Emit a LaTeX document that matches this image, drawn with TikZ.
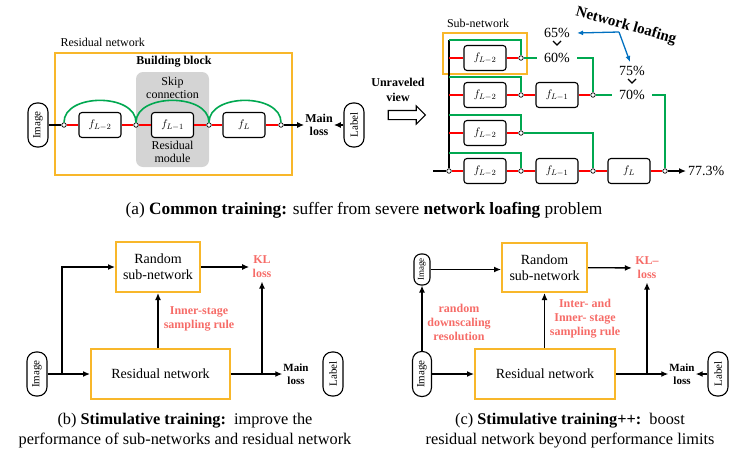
\documentclass[tikz,border=0pt]{standalone}
\usepackage{fontspec}
\setmainfont{Liberation Serif}
\usetikzlibrary{shapes.arrows,arrows.meta,positioning}

\definecolor{boxorange}{RGB}{248,183,42}
\definecolor{pathred}{RGB}{255,0,0}
\definecolor{skipgreen}{RGB}{0,168,80}
\definecolor{rulered}{RGB}{246,108,104}
\definecolor{modulegray}{RGB}{212,212,212}
\definecolor{loafblue}{RGB}{0,112,192}

\begin{document}
\begin{tikzpicture}[x=1pt,y=-1pt,
    >={Latex[length=7pt,width=6pt]},
    fblock/.style={draw,fill=white,line width=1.1pt,rounded corners=3pt,minimum width=42pt,minimum height=25pt,inner sep=0pt,font=\fontsize{11}{11}\selectfont},
    junction/.style={circle,draw,fill=white,line width=0.7pt,inner sep=0pt,minimum size=4.5pt},
    pill/.style={draw,fill=white,line width=1.1pt,rounded corners=9pt,rotate=90,minimum width=44pt,minimum height=20pt,inner sep=0pt,font=\fontsize{11}{11}\selectfont},
    orangebox/.style={draw=boxorange,line width=2pt,align=center,inner sep=0pt,font=\fontsize{14}{16}\selectfont},
    redline/.style={pathred,line width=1.6pt},
    skipline/.style={skipgreen,line width=1.6pt},
    flow/.style={line width=1.3pt},
    redtext/.style={rulered,align=center,font=\bfseries\fontsize{12}{14}\selectfont},
    plain/.style={align=center,font=\fontsize{12}{13}\selectfont},
    loss/.style={align=center,inner sep=1pt,font=\bfseries\fontsize{11}{13}\selectfont},
    pct/.style={inner sep=7pt,font=\fontsize{14}{14}\selectfont},
    caption/.style={align=center,font=\fontsize{16.3}{20}\selectfont}
  ]
  \useasboundingbox (0,0) rectangle (746,461);

  % ---------------- (a) residual network ----------------
  \node[anchor=west,plain] (resname) at (57,42) {Residual network};
  \node[draw=boxorange,line width=2pt,minimum width=237pt,minimum height=122pt] (resbox) at (173.5,114) {};
  \node[fill=modulegray,rounded corners=7pt,minimum width=73pt,minimum height=95pt] (module) at (172.5,119.5) {};
  \node[font=\bfseries\fontsize{12}{13}\selectfont] (bbtitle) at (174,62) {Building block};
  \node[plain] (skiptxt) at (172.5,88) {Skip\\connection};
  \node[plain] (modtxt) at (172.5,152) {Residual\\module};

  \node[pill] (imgA) at (38,125) {Image};
  \foreach \x/\n in {64/0,136/1,209/2,281/3}
    \node[junction] (ja\n) at (\x,125) {};
  \node[fblock] (fa1) at (100,125) {$f_{L-2}$};
  \node[fblock] (fa2) at (172.5,125) {$f_{L-1}$};
  \node[fblock] (fa3) at (244,125) {$f_{L}$};
  \node[loss,font=\bfseries\fontsize{12}{13}\selectfont] (mainA) at (319,125) {Main\\loss};
  \node[pill] (lblA) at (354,125) {Label};

  % main path and skips
  \draw[flow] (imgA) -- (ja0);
  \draw[redline] (ja0) -- (fa1) -- (ja1) -- (fa2) -- (ja2) -- (fa3) -- (ja3);
  \foreach \a/\b in {0/1,1/2,2/3}
    \draw[skipline] (ja\a) .. controls +(0,-32) and +(0,-32) .. (ja\b);
  \draw[flow,->] (ja3) -- (mainA);
  \draw[flow,->] (lblA) -- (mainA);

  % ---------------- (a) unraveled view ----------------
  \node[font=\bfseries\fontsize{12}{15}\selectfont,align=center] (unrav) at (398,90) {Unraveled\\view};
  \node[single arrow,draw,fill=white,line width=1.1pt,minimum height=37pt,
        inner xsep=0pt,inner ysep=4pt,single arrow head extend=4.5pt] (unravarrow) at (404.5,115) {};

  \node[plain] (subname) at (478,23) {Sub-network};
  \node[draw=boxorange,line width=2pt,minimum width=84pt,minimum height=41pt] (subbox) at (485,53.5) {};

  % rows of the unraveled network
  \foreach \r/\y in {1/58,2/95,3/133,4/171} {
    \node[fblock] (fu\r) at (485,\y) {$f_{L-2}$};
    \node[junction] (jb\r) at (521,\y) {};
    \coordinate (rowin\r) at (449,\y);
    \coordinate (skiptop\r) at (449,\y-18);
  }
  \node[fblock] (gu2) at (557,95) {$f_{L-1}$};
  \node[fblock] (gu4) at (557,171) {$f_{L-1}$};
  \node[junction] (jc2) at (593,95) {};
  \node[junction] (jc4) at (593,171) {};
  \node[fblock] (hu4) at (629,171) {$f_{L}$};
  \node[junction] (jd4) at (665,171) {};
  \node[junction] (jin) at (449,171) {};
  \coordinate (netin) at (433,171);
  \node[anchor=west,font=\fontsize{14}{14}\selectfont,inner sep=2pt] (acc) at (686,171) {77.3\%};

  \node[pct] (p65) at (557,33) {65\%};
  \node[pct] (p60) at (557,58) {60\%};
  \node[pct] (p75) at (632,71) {75\%};
  \node[pct] (p70) at (632,95) {70\%};
  \draw[line width=1.2pt] (553,41) -- (557,45) -- (561,41);
  \draw[line width=1.2pt] (628,79) -- (632,83) -- (636,79);

  \draw[flow] (skiptop1) -- (jin);
  \draw[flow] (netin) -- (jin);
  \foreach \r in {1,2,3}
    \draw[redline] (rowin\r) -- (fu\r) -- (jb\r);
  \draw[redline] (jin) -- (fu4) -- (jb4);
  \draw[redline] (jb2) -- (gu2) -- (jc2);
  \draw[redline] (jb4) -- (gu4) -- (jc4) -- (hu4) -- (jd4);
  \draw[flow,->] (jd4) -- (acc);

  \foreach \r in {1,2,3,4}
    \draw[skipline] (skiptop\r) -| (jb\r);
  \draw[skipline] (jb1) -- (p60.west);
  \draw[skipline] (p60.east) -| (jc2);
  \draw[skipline] (jc2) -- (p70.west);
  \draw[skipline] (p70.east) -| (jd4);
  \draw[skipline] (jb3) -| (jc4);

  % network loafing
  \node[rotate=-16,inner sep=0pt,font=\bfseries\fontsize{15}{15}\selectfont] (loaf) at (626,26) {Network loafing};
  \coordinate (loafsplit) at (619,32);
  \draw[loafblue,line width=1.3pt,-{Latex[length=6pt,width=5pt]}] (loafsplit) -- (p65.east);
  \draw[loafblue,line width=1.3pt,-{Latex[length=6pt,width=5pt]}] (loafsplit) -- (630,62);

  \node[caption,font=\fontsize{17.3}{20}\selectfont] (capa) at (364,210) {(a) \textbf{Common training:} suffer from severe \textbf{network loafing} problem};

  % ---------------- (b) stimulative training ----------------
  \node[pill] (imgB) at (37,374) {Image};
  \node[orangebox,minimum width=84pt,minimum height=50pt] (randB) at (158,267) {Random\\sub-network};
  \node[orangebox,minimum width=139pt,minimum height=50pt] (resB) at (160.5,374) {Residual network};
  \node[redtext] (klB) at (262,267) {KL\\loss};
  \node[redtext] (ruleB) at (199,319) {Inner-stage\\sampling rule};
  \node[loss] (mainB) at (296,374) {Main\\loss};
  \node[pill] (lblB) at (333,374) {Label};
  \coordinate (splitB) at (62,374);
  \coordinate (mergeB) at (262,374);

  \draw[flow,->] (imgB) -- (resB);
  \draw[flow,->] (splitB) |- (randB);
  \draw[flow,->] (randB) -- (klB);
  \draw[flow,->] (randB.south |- resB.north) -- (randB.south);
  \draw[flow,->] (resB) -- (mainB);
  \draw[flow,->] (mergeB) -- (klB);

  \node[caption] (capb) at (185,431) {(b) \textbf{Stimulative training:}\ \ improve the\\performance of sub-networks and residual network};

  % ---------------- (c) stimulative training++ ----------------
  \node[pill,minimum width=31pt,minimum height=16pt,rounded corners=7pt,font=\fontsize{9}{9}\selectfont] (imgC1) at (422,269.5) {Image};
  \node[pill,minimum width=45pt,minimum height=19pt] (imgC2) at (422,374) {Image};
  \node[orangebox,minimum width=85pt,minimum height=49pt] (randC) at (544.5,267.5) {Random\\sub-network};
  \node[orangebox,minimum width=140pt,minimum height=50pt] (resC) at (545,374) {Residual network};
  \node[redtext] (klC) at (647,268) {KL--\\loss};
  \node[redtext] (ruleC) at (585,319) {Inter- and\\Inner- stage\\sampling rule};
  \node[redtext] (downC) at (459,322) {random\\downscaling\\resolution};
  \node[loss] (mainC) at (682,374) {Main\\loss};
  \node[pill] (lblC) at (718,374) {Label};
  \coordinate (mergeC) at (647,374);

  \draw[flow,->] (imgC2) -- (imgC1);
  \draw[flow,->] (imgC1.south) -- (imgC1.south -| randC.west);
  \draw[flow,->] (imgC2) -- (resC);
  \draw[flow,->] (randC) -- (klC);
  \draw[flow,->] (randC.south |- resC.north) -- (randC.south);
  \draw[flow,->] (resC) -- (mainC);
  \draw[flow,->] (mergeC) -- (klC);
  \draw[flow,->] (lblC) -- (mainC);

  \node[caption] (capc) at (570,431) {(c) \textbf{Stimulative training++:}\ \ boost\\residual network beyond performance limits};
\end{tikzpicture}
\end{document}
